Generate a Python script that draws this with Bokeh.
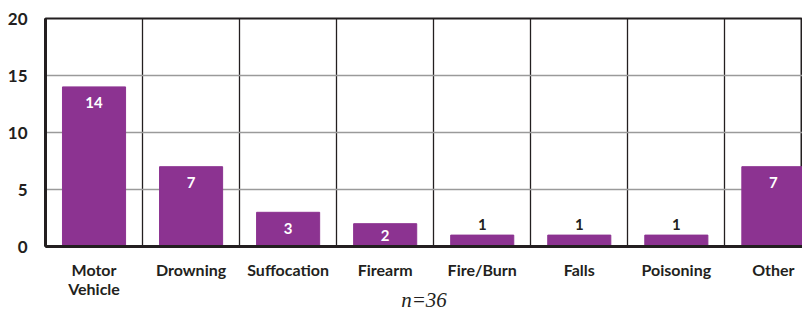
from bokeh.plotting import figure
from bokeh.models import ColumnDataSource, Range1d, FixedTicker
from bokeh.core.properties import value
from bokeh.embed import file_html
from bokeh.resources import INLINE

categories = ["Motor\nVehicle", "Drowning", "Suffocation", "Firearm", "Fire/Burn", "Falls", "Poisoning", "Other"]
counts = [14, 7, 3, 2, 1, 1, 1, 7]
y_ticks = [0, 5, 10, 15, 20]
note = "n=36"

BAR = "#8C3391"
DARK = "#231F20"
FONT = "Lato"

xs = list(range(len(categories)))
inside = [c >= 2 for c in counts]
src = ColumnDataSource(dict(
    x=xs,
    top=counts,
    label=[str(c) for c in counts],
    ly=[max(c - 1.4, c / 2) if ins else c for c, ins in zip(counts, inside)],
    color=["white" if ins else DARK for ins in inside],
    yoff=[0 if ins else -11 for ins in inside],
))

p = figure(width=802, height=314, output_backend="svg", toolbar_location=None,
           x_range=Range1d(-0.5, 7.3), y_range=Range1d(0, 20),
           min_border_left=45, min_border_top=18, min_border_right=0, min_border_bottom=68)

p.vbar(x="x", top="top", bottom=0, width=0.65, color=BAR, source=src)
p.text(x="x", y="ly", text="label", text_color="color", y_offset="yoff",
       text_align="center", text_baseline="middle", text_font=value(FONT),
       text_font_style="bold", text_font_size="15px", source=src)

p.xaxis.ticker = FixedTicker(ticks=xs)
p.xaxis.major_label_overrides = {i: c for i, c in enumerate(categories)}
p.yaxis.ticker = FixedTicker(ticks=y_ticks)

for ax in (p.xaxis, p.yaxis):
    ax.major_tick_line_color = None
    ax.minor_tick_line_color = None
    ax.axis_line_color = DARK
    ax.axis_line_width = 3
    ax.major_label_text_font = FONT
    ax.major_label_text_font_style = "bold"
    ax.major_label_text_color = DARK

p.yaxis.major_label_text_font_size = "17px"
p.yaxis.major_label_standoff = 12
p.xaxis.major_label_text_font_size = "16px"
p.xaxis.major_label_standoff = 7
p.xaxis.major_label_text_line_height = 1.0

p.xaxis.axis_label = note
p.xaxis.axis_label_text_font = "Liberation Serif"
p.xaxis.axis_label_text_font_style = "italic"
p.xaxis.axis_label_text_font_size = "21px"
p.xaxis.axis_label_text_color = DARK
p.xaxis.axis_label_standoff = -13

p.xgrid.ticker = FixedTicker(ticks=[i + 0.5 for i in xs[:-1]])
p.xgrid.grid_line_color = DARK
p.xgrid.grid_line_width = 1.3
p.ygrid.ticker = FixedTicker(ticks=y_ticks)
p.ygrid.grid_line_color = "#9a9a9a"
p.ygrid.grid_line_width = 1.5

p.outline_line_color = DARK
p.outline_line_width = 2

open("out.html", "w").write(file_html(p, INLINE))
